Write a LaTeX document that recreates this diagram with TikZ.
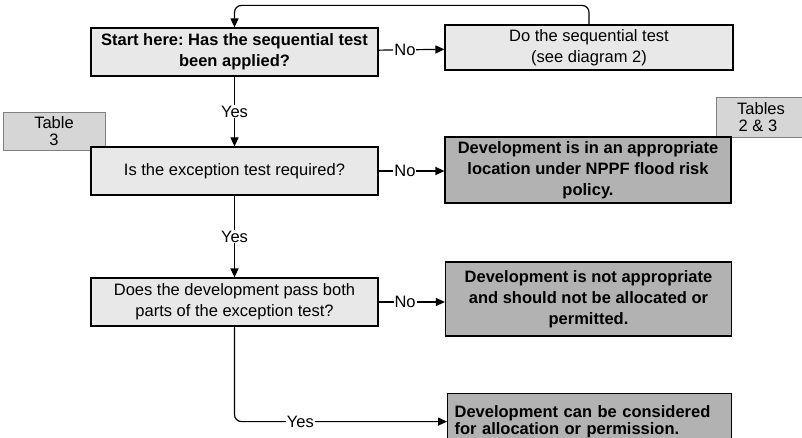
\documentclass[tikz,border=0pt]{standalone}
\usepackage{fontspec}
\setmainfont{Liberation Sans}
\usetikzlibrary{arrows.meta}
\definecolor{boxgray}{gray}{0.91}
\definecolor{darkgray}{gray}{0.70}
\definecolor{tabgray}{gray}{0.84}
\frenchspacing

\begin{document}
\begin{tikzpicture}[x=1pt,y=-1pt,line width=1.2pt,
  every node/.style={font=\fontsize{16.5}{21}\selectfont,inner sep=2pt},
  box/.style={draw,fill=boxgray,minimum width=287pt,minimum height=48pt,align=center},
  dark/.style={draw,fill=darkgray,minimum width=286pt,align=center,font=\fontsize{16.5}{21}\selectfont\bfseries},
  tab/.style={fill=tabgray,draw=gray,line width=.8pt,align=center,inner sep=0pt},
  lbl/.style={fill=white,inner sep=1pt},
  arr/.style={-{Triangle[length=9pt,width=8pt]}}]
  \clip (0,0) rectangle (802,438);
  % table references
  \node[tab,minimum width=102pt,minimum height=38pt] (tab3) at (54,131) {Table\\[-4pt]3};
  \node[tab,minimum width=90pt,minimum height=40pt] (tab23) at (761,117) {Tables\\[-4pt]2 \& 3\hspace*{6pt}};
  % question boxes
  \node[box,font=\fontsize{16.5}{21}\selectfont\bfseries] (start) at (234.5,52) {Start here: Has the sequential test\\been applied?};
  \node[box,minimum width=288pt,minimum height=45pt] (seq) at (589,47.5) {Do the sequential test\\(see diagram 2)};
  \node[box] (exc) at (234.5,171) {Is the exception test required?};
  \node[box] (pass) at (234.5,302) {Does the development pass both\\parts of the exception test?};
  % outcomes
  \node[dark,minimum height=66pt] (appr) at (588,170) {Development is in an appropriate\\location under NPPF flood risk\\policy.};
  \node[dark,minimum height=74pt] (notappr) at (588.5,299) {Development is not appropriate\\and should not be allocated or\\permitted.};
  \node[dark,anchor=north west,minimum width=284pt,minimum height=56pt,text width=270pt,align=left,inner xsep=6pt,inner ysep=2pt,
    font=\fontsize{16.5}{17}\selectfont\bfseries] (cons) at (447,393) {Development can be considered\\for allocation or permission.\par\vspace*{26pt}};
  % connectors
  \draw[arr] (start) -- node[lbl,pos=.4] {No} (seq);
  \draw[arr,rounded corners=7pt] (seq.north) -- ++(0,-19) -| (start.north);
  \draw[arr] (start) -- node[lbl] {Yes} (exc);
  \draw[arr] (exc) -- node[lbl,pos=.4] {No} (appr.west |- exc);
  \draw[arr] (exc) -- node[lbl] {Yes} (pass);
  \draw[arr] (pass) -- node[lbl,pos=.4] {No} (notappr.west |- pass);
  \coordinate (bend) at (pass.south |- cons.west);
  \draw[arr,rounded corners=7pt] (pass) -- (bend) -- node[lbl,pos=.31] {Yes} (cons.west);
\end{tikzpicture}
\end{document}
